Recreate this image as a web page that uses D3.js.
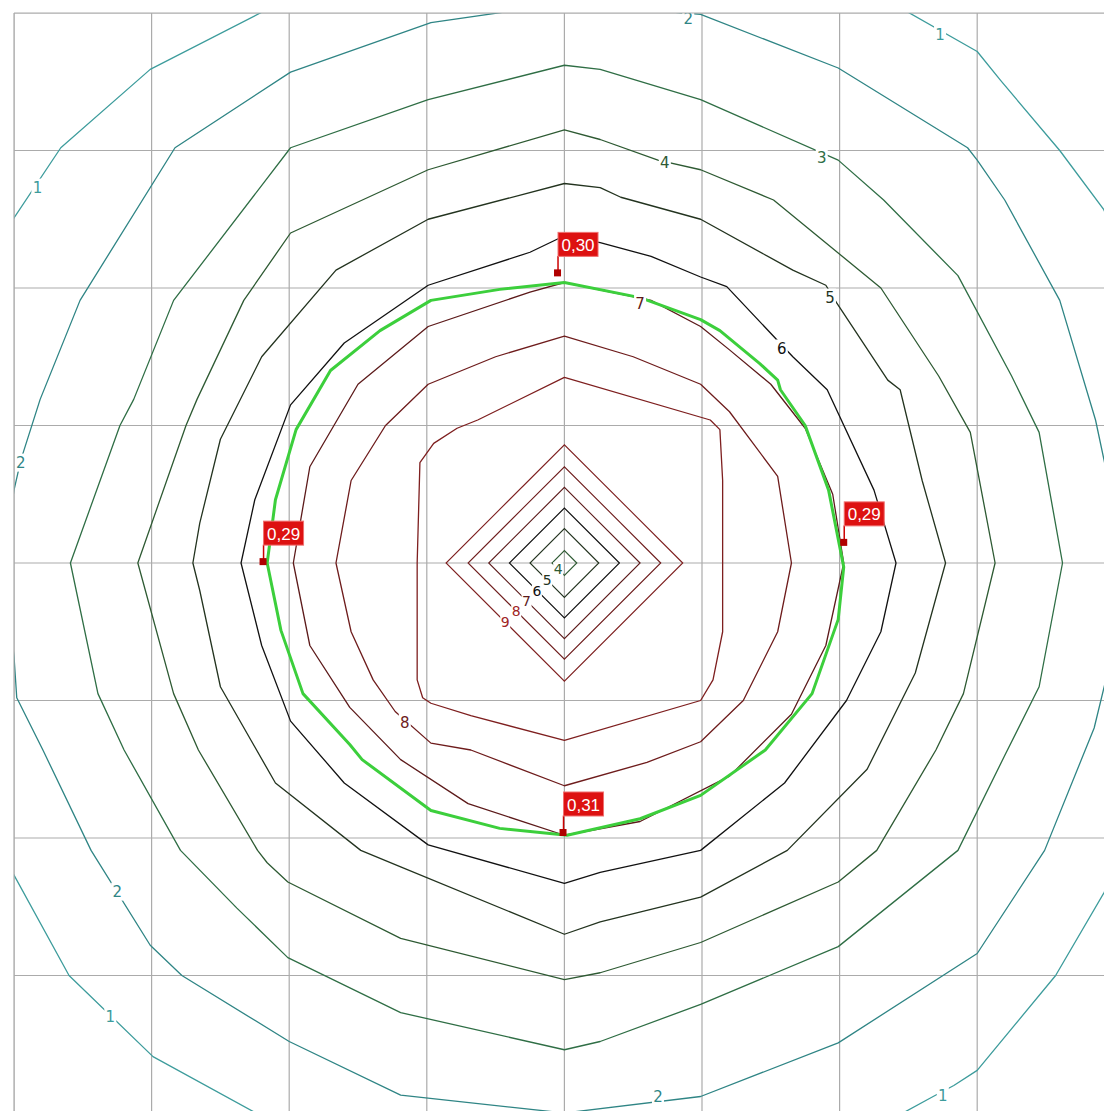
<!DOCTYPE html>
<html><head><meta charset="utf-8">
<script src="https://cdn.jsdelivr.net/npm/d3@7"></script>
<style>body{margin:0;background:#fff}svg{display:block}</style>
</head><body>
<svg id="chart" width="1104" height="1111"></svg>
<script>
// grid lines (metres)
const gridX = [-4, -3, -2, -1, 0, 1, 2, 3];
const gridY = [4, 3, 2, 1, 0, -1, -2, -3];

// isolines: closed polygons [x, y] in metres, counter-clockwise from +x
const iso1 = [[4.7,0],[4.4,1.5],[3.92,2.57],[3.6,3.0],[3.17,3.51],[3.0,3.72],[2.49,4.01],[2.0,4.3],[0,4.75],[-1.6,4.35],[-2.21,4.0],[-3.01,3.59],[-3.66,3.02],[-4.0,2.51],[-4.3,2.0],[-4.7,0],[-4.3,-1.7],[-4.0,-2.27],[-3.6,-3.0],[-2.99,-3.59],[-2.26,-3.99],[-1.6,-4.35],[0,-4.75],[2.0,-4.25],[2.46,-4.0],[2.68,-3.88],[2.83,-3.8],[3.0,-3.69],[3.57,-3.0],[3.92,-2.4],[4.3,-1.7]];
const iso2 = [[4.08,0],[3.86,1.04],[3.6,1.91],[3.2,2.64],[3.0,2.93],[2.93,3.02],[1.99,3.6],[0.99,3.99],[0,4.07],[-0.97,3.93],[-1.99,3.57],[-2.83,3.02],[-3.52,1.91],[-3.81,1.19],[-3.95,0.75],[-4.0,0.53],[-4.08,0],[-4.0,-0.68],[-3.98,-0.98],[-3.79,-1.36],[-3.44,-2.09],[-3.01,-2.78],[-2.78,-3.0],[-2.0,-3.48],[-1.19,-3.87],[0,-4.0],[0.99,-3.88],[1.99,-3.49],[3.0,-2.84],[3.49,-2.09],[3.85,-1.2],[4.02,-0.5]];
const iso3 = [[3.62,0],[3.45,0.95],[3.25,1.36],[2.86,2.09],[2.32,2.64],[1.99,2.93],[0.99,3.37],[0.26,3.59],[0,3.62],[-0.99,3.37],[-1.99,3.02],[-2.84,1.91],[-3.13,1.19],[-3.23,1.0],[-3.59,0],[-3.39,-0.95],[-3.2,-1.36],[-2.79,-2.09],[-2.38,-2.51],[-2.01,-2.87],[-1.19,-3.27],[0,-3.54],[0.26,-3.48],[0.99,-3.21],[1.99,-2.79],[2.86,-2.09],[3.2,-1.4],[3.45,-0.9]];
const iso4 = [[3.13,0],[2.95,0.95],[2.72,1.36],[2.3,2.0],[1.52,2.64],[0.99,2.86],[0.68,2.93],[0.26,3.08],[0,3.15],[-0.99,2.86],[-1.99,2.4],[-2.33,1.91],[-2.67,1.19],[-2.75,1.0],[-3.1,0],[-2.84,-0.95],[-2.66,-1.36],[-2.23,-2.09],[-2.16,-2.18],[-2.01,-2.32],[-1.19,-2.73],[0,-3.03],[0.26,-2.98],[0.99,-2.76],[1.99,-2.32],[2.27,-2.09],[2.7,-1.36],[2.9,-0.95]];
const iso5 = [[2.77,0],[2.6,0.6],[2.44,1.26],[2.35,1.33],[1.98,1.89],[1.9,2.02],[1.66,2.13],[0.99,2.5],[0.41,2.66],[0.26,2.73],[0,2.76],[-0.99,2.5],[-1.66,2.13],[-2.2,1.5],[-2.5,0.9],[-2.65,0.29],[-2.7,0],[-2.65,-0.2],[-2.5,-0.9],[-2.1,-1.6],[-1.48,-2.09],[-1.19,-2.21],[0,-2.7],[0.26,-2.61],[0.99,-2.43],[1.62,-2.09],[2.2,-1.5],[2.55,-0.8]];
const iso6 = [[2.41,0],[2.25,0.53],[1.91,1.26],[1.66,1.5],[1.18,2.01],[0.99,2.08],[0.63,2.23],[0.26,2.33],[0,2.38],[-0.25,2.26],[-0.99,2.02],[-1.6,1.6],[-1.99,1.15],[-2.25,0.46],[-2.35,0],[-2.2,-0.6],[-1.99,-1.15],[-1.6,-1.6],[-0.99,-2.05],[0,-2.33],[0.26,-2.25],[0.99,-2.09],[1.6,-1.6],[2.05,-1.0],[2.3,-0.5]];
const iso7 = [[2.03,0],[1.95,0.5],[1.75,0.98],[1.5,1.3],[1.2,1.55],[0.99,1.72],[0.63,1.91],[0,2.04],[-0.25,1.97],[-0.99,1.72],[-1.5,1.3],[-1.85,0.7],[-1.97,0],[-1.85,-0.6],[-1.56,-1.05],[-1.19,-1.43],[-0.7,-1.75],[0,-1.98],[0.55,-1.88],[1.2,-1.55],[1.65,-1.1],[1.9,-0.6]];
const iso8 = [[1.65,0],[1.55,0.63],[1.2,1.1],[0.99,1.3],[0.5,1.5],[0,1.65],[-0.5,1.5],[-0.99,1.3],[-1.3,1.0],[-1.55,0.6],[-1.66,0],[-1.55,-0.5],[-1.39,-0.85],[-1.23,-1.08],[-0.97,-1.31],[-0.68,-1.36],[0,-1.62],[0.6,-1.45],[0.99,-1.3],[1.3,-1.0],[1.55,-0.5]];
const iso9 = [[1.15,0],[1.15,0.6],[1.13,0.97],[1.06,1.04],[0,1.35],[-0.63,1.04],[-0.78,0.98],[-0.95,0.87],[-1.05,0.73],[-1.07,0],[-1.07,-0.85],[-1.03,-0.98],[-0.97,-1.02],[-0.68,-1.11],[0,-1.29],[0.99,-1.0],[1.08,-0.85],[1.15,-0.5]];

// central dip: diamond half-widths per level (metres)
const diamondLevels = [4, 5, 6, 7, 8, 9];
const diamondHalf = [0.09, 0.25, 0.4, 0.55, 0.7, 0.86];

// level colours
const levelColor = {1:"#3d9c9c", 2:"#2f8585", 3:"#2f6e45", 4:"#2e5a33", 5:"#23331f", 6:"#111111", 7:"#5c1a1a", 8:"#6e1c1c", 9:"#7e1f1f"};

// isoline labels [level, x, y]
const isoLabels = [
  [1, -3.83, 2.73], [1, 2.73, 3.84], [1, -3.3, -3.3], [1, 2.75, -3.87],
  [2, 0.9, 3.96], [2, -3.95, 0.73], [2, -3.25, -2.39], [2, 0.68, -3.88],
  [3, 1.87, 2.95], [4, 0.73, 2.91], [5, 1.93, 1.93], [6, 1.58, 1.56],
  [7, 0.55, 1.89], [8, -1.16, -1.16]
];

// calculation points with readings
const points = [
  {x: -0.05, y: 2.11, text: "0,30"},
  {x: 2.03, y: 0.15, text: "0,29"},
  {x: -2.19, y: 0.01, text: "0,29"},
  {x: -0.01, y: -1.96, text: "0,31"}
];

// task area outline
const taskArea = [[0,2.04],[0.55,1.93],[0.99,1.77],[1.13,1.69],[1.42,1.45],[1.55,1.33],[1.57,1.26],[1.75,1.0],[1.92,0.53],[2.03,-0.03],[1.99,-0.41],[1.8,-0.95],[1.46,-1.36],[0.99,-1.69],[0.55,-1.86],[0.02,-1.98],[-0.47,-1.93],[-0.97,-1.8],[-1.47,-1.43],[-1.56,-1.32],[-1.9,-0.95],[-2.06,-0.49],[-2.16,0],[-2.1,0.46],[-1.95,0.97],[-1.7,1.4],[-1.34,1.69],[-0.97,1.91],[-0.47,1.99],[0,2.04]];

const isolines = [[1, iso1], [2, iso2], [3, iso3], [4, iso4], [5, iso5], [6, iso6], [7, iso7], [8, iso8], [9, iso9]];

const svg = d3.select("#chart");
const W = 1104, H = 1111;
const x = d3.scaleLinear().domain([-4, 4]).range([14, 1114.8]);
const y = d3.scaleLinear().domain([4, -4]).range([13, 1113]);

svg.append("defs").append("clipPath").attr("id", "plot")
  .append("rect").attr("x", 14).attr("y", 13).attr("width", W - 14).attr("height", H - 13);

const g = svg.append("g").attr("clip-path", "url(#plot)");

// grid
g.append("g").selectAll("line").data(gridX).join("line")
  .attr("x1", d => x(d)).attr("x2", d => x(d)).attr("y1", 13).attr("y2", H)
  .attr("stroke", "#ababab").attr("stroke-width", 1.2);
g.append("g").selectAll("line").data(gridY).join("line")
  .attr("y1", d => y(d)).attr("y2", d => y(d)).attr("x1", 14).attr("x2", W)
  .attr("stroke", "#ababab").attr("stroke-width", 1.2);

const line = d3.line().x(d => x(d[0])).y(d => y(d[1]));
const closed = d3.line().x(d => x(d[0])).y(d => y(d[1])).curve(d3.curveLinearClosed);

// isolines
g.append("g").selectAll("path").data(isolines).join("path")
  .attr("d", d => closed(d[1]))
  .attr("fill", "none").attr("stroke", d => levelColor[d[0]]).attr("stroke-width", 1.3)
  .attr("stroke-linejoin", "round");

// central diamonds
g.append("g").selectAll("path").data(diamondLevels).join("path")
  .attr("d", (d, i) => { const h = diamondHalf[i]; return closed([[h,0],[0,h],[-h,0],[0,-h]]); })
  .attr("fill", "none").attr("stroke", d => levelColor[d]).attr("stroke-width", 1.1);

// task area
g.append("path").attr("d", line(taskArea)).attr("fill", "none")
  .attr("stroke", "#3ccf3c").attr("stroke-width", 3).attr("stroke-linejoin", "round");

// isoline labels
const lab = g.append("g").selectAll("g").data(isoLabels).join("g")
  .attr("transform", d => `translate(${x(d[1])},${y(d[2])})`);
lab.append("rect").attr("x", -6).attr("y", -9).attr("width", 12).attr("height", 18).attr("fill", "#fff");
lab.append("text").attr("text-anchor", "middle").attr("dy", "0.36em")
  .attr("font-family", "DejaVu Sans, sans-serif").attr("font-size", 15)
  .attr("fill", d => levelColor[d[0]]).text(d => d[0]);

// diamond labels, on the lower-left edges
const dl = g.append("g").selectAll("g").data(diamondLevels).join("g")
  .attr("transform", (d, i) => `translate(${x(-diamondHalf[i] / 2)},${y(-diamondHalf[i] / 2)})`);
dl.append("rect").attr("x", -5).attr("y", -7).attr("width", 10).attr("height", 14).attr("fill", "#fff");
dl.append("text").attr("text-anchor", "middle").attr("dy", "0.36em")
  .attr("font-family", "DejaVu Sans, sans-serif").attr("font-size", 14)
  .attr("fill", d => d >= 8 ? "#a02525" : levelColor[d]).text(d => d);

// calculation point flags
const pf = g.append("g").selectAll("g").data(points).join("g")
  .attr("transform", d => `translate(${x(d.x)},${y(d.y)})`);
pf.append("line").attr("x1", 0.5).attr("y1", 0).attr("x2", 0.5).attr("y2", -17).attr("stroke", "#cc0000").attr("stroke-width", 1.5);
pf.append("rect").attr("x", -3.5).attr("y", -3.5).attr("width", 7).attr("height", 7).attr("fill", "#b00000");
pf.append("rect").attr("x", 0.5).attr("y", -40.5).attr("width", 40).attr("height", 24).attr("fill", "#dd1111").attr("stroke", "#f07070").attr("stroke-width", 1);
pf.append("text").attr("x", 20.5).attr("y", -22).attr("text-anchor", "middle")
  .attr("font-family", "Liberation Sans Narrow, Liberation Sans, sans-serif")
  .attr("font-size", 17).attr("fill", "#fff").text(d => d.text);

// frame
svg.append("line").attr("x1", 14).attr("x2", 14).attr("y1", 13).attr("y2", H).attr("stroke", "#ababab").attr("stroke-width", 1.2);
svg.append("line").attr("x1", 14).attr("x2", W).attr("y1", 13).attr("y2", 13).attr("stroke", "#ababab").attr("stroke-width", 1.2);
</script>
</body></html>
